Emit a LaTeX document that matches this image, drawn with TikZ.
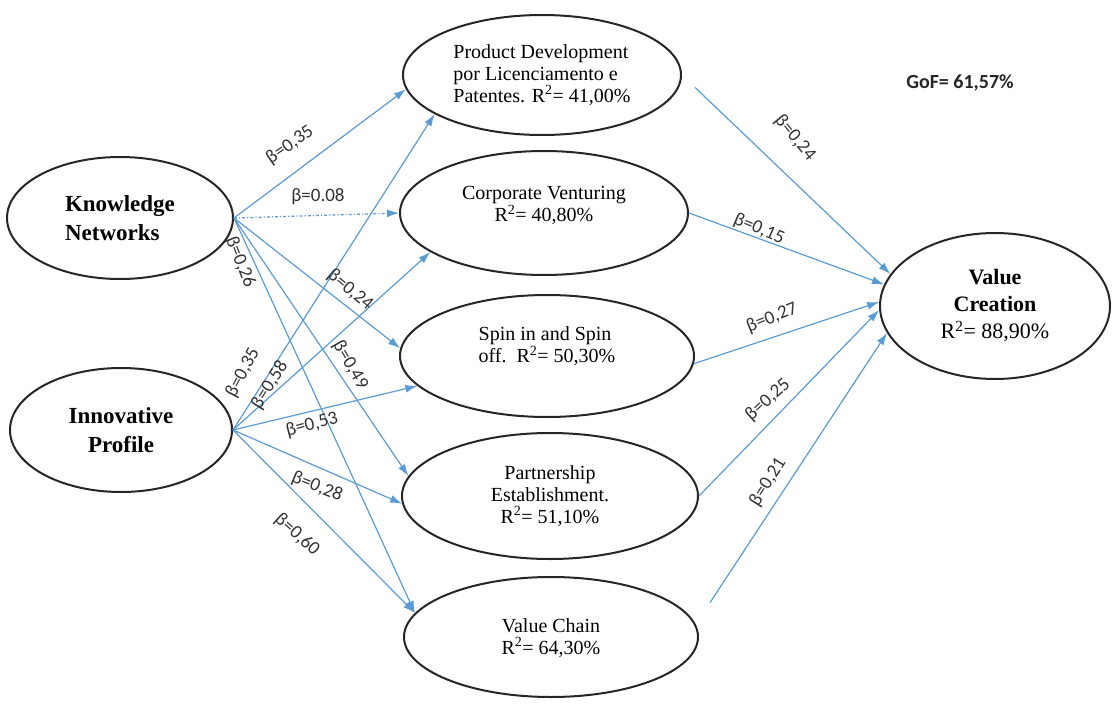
\documentclass[tikz,border=0pt]{standalone}
\usepackage{fontspec}
\setmainfont{Liberation Serif}
\newfontfamily\coeffont{Carlito}
\usetikzlibrary{shapes.geometric,arrows.meta}
\definecolor{pathblue}{HTML}{5B9BD5}

\tikzset{
    construct/.style={ellipse, draw=black!85, line width=2pt, inner sep=0pt, align=center,
            font=\fontsize{20}{22}\selectfont},
    effect/.style={pathblue, line width=1.2pt, -{Latex[length=12pt,width=8pt]}},
    coef/.style={font=\coeffont\fontsize{19}{19}\selectfont, inner sep=1pt, text=black!80}
}

\begin{document}
\begin{tikzpicture}[x=1pt,y=-1pt]
        \useasboundingbox (0,0) rectangle (1112,704);

        % Draw the constructs
        \node[construct, minimum width=226pt, minimum height=122pt, align=left,
            font=\bfseries\fontsize{23}{29}\selectfont] (kn) at (120,218) {Knowledge\\Networks};
        \node[construct, minimum width=222pt, minimum height=124pt,
            font=\bfseries\fontsize{23}{29}\selectfont] (ip) at (121,430) {Innovative\\Profile};
        \node[construct, minimum width=278pt, minimum height=120pt, align=left] (pd) at (542,75)
            {Product Development\\por Licenciamento e\\Patentes. R\textsuperscript{2}= 41,00\%};
        \node[construct, minimum width=288pt, minimum height=124pt] (cv) at (544,213)
            {Corporate Venturing\\R\textsuperscript{2}= 40,80\%\\[-4pt]\mbox{}};
        \node[construct, minimum width=294pt, minimum height=122pt, align=left] (sp) at (547,356)
            {Spin in and Spin\\off.~~R\textsuperscript{2}= 50,30\%\\\mbox{}};
        \node[construct, minimum width=296pt, minimum height=126pt] (pt) at (550,496)
            {Partnership\\Establishment.\\R\textsuperscript{2}= 51,10\%};
        \node[construct, minimum width=294pt, minimum height=120pt] (vch) at (551,637)
            {\mbox{}\\[-6pt]Value Chain\\R\textsuperscript{2}= 64,30\%};
        \node[construct, minimum width=230pt, minimum height=146pt,
            font=\fontsize{22}{27}\selectfont] (vcr) at (995,306)
            {\textbf{Value}\\\textbf{Creation}\\R\textsuperscript{2}= 88,90\%};

        \node[font=\coeffont\bfseries\fontsize{20}{20}\selectfont, text=black!85] (gof) at (960,83) {GoF= 61,57\%};

        % Draw the paths into the mediators
        \foreach \from/\to in {kn/pd.186, kn/sp.177, kn/pt.172, kn/vch.170,
                ip/pd.200, ip/cv.199, ip/sp.193, ip/pt.183, ip/vch.170} {
                \draw[effect] (\from.east) -- (\to);
            }
        \draw[effect, dash dot] (kn.east) -- (cv.west);

        % Draw the paths into value creation
        \draw[effect, shorten <=18pt] (pd.east) -- (vcr.163);
        \foreach \from/\to in {cv.east/169, sp.-3/178, pt.east/182} {
                \draw[effect] (\from) -- (vcr.\to);
            }
        \draw[effect, shorten <=26pt] (vch.5) -- (vcr.194);

        % Label the coefficients
        \foreach \x/\y/\r/\t [count=\i] in {290/145/35/{β=0,35}, 318/197/0/{β=0.08},
                350/290/-40/{β=0,24}, 240/262/-68/{β=0,26}, 243/373/62/{β=0,35},
                270/385/58/{β=0,58}, 312/425/15/{β=0,53}, 350/365/-60/{β=0,49},
                317/487/-22/{β=0,28}, 297/535/-42/{β=0,60}, 795/138/-50/{β=0,24},
                759/229/-23/{β=0,15}, 772/318/22/{β=0,27}, 768/400/42/{β=0,25},
                768/482/58/{β=0,21}} {
                \node[coef, rotate=\r] (b\i) at (\x,\y) {\t};
            }
    \end{tikzpicture}
\end{document}
